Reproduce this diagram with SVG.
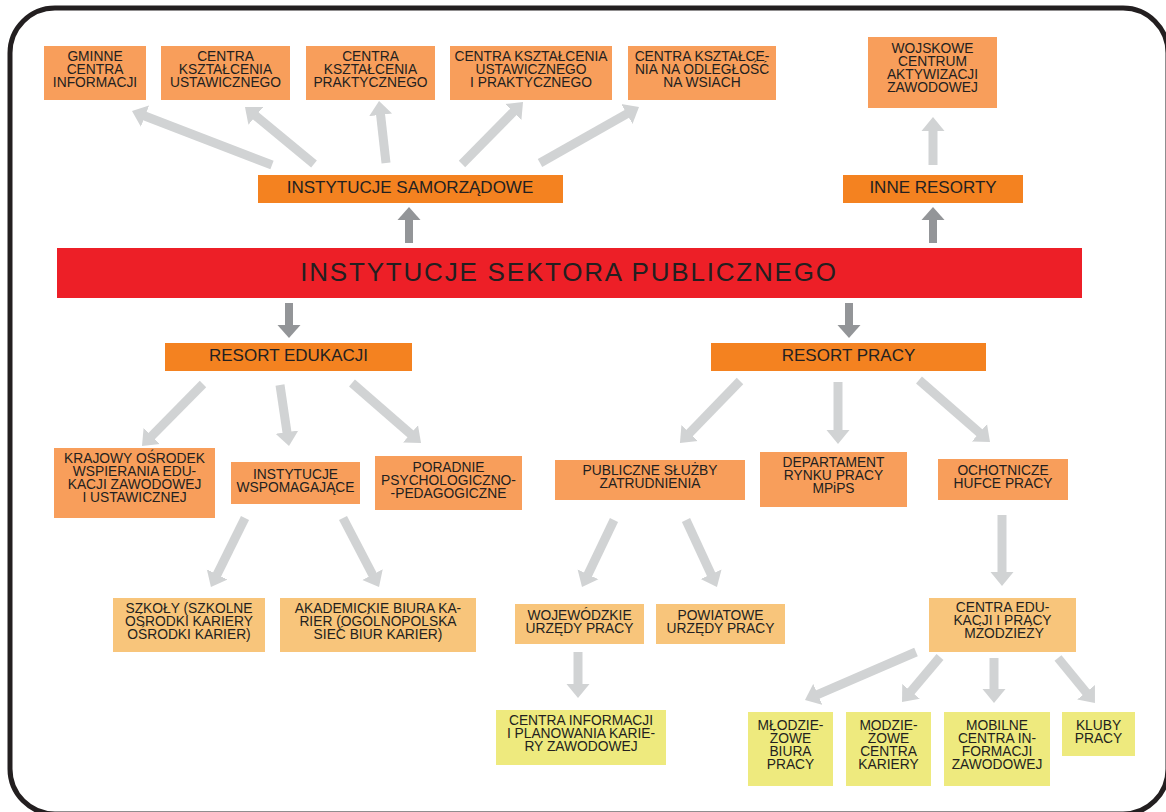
<svg xmlns="http://www.w3.org/2000/svg" width="1166" height="812" viewBox="0 0 1166 812">
<style>
.t{font-family:"Liberation Sans",Arial,sans-serif;font-size:13.8px;fill:#231F20;text-anchor:middle}
.tl{font-family:"Liberation Sans",Arial,sans-serif;font-size:17px;fill:#231F20;text-anchor:middle}
.o1{fill:#F48220}
.o2{fill:#F89E5B}
.o3{fill:#F8C57B}
.y{fill:#EEEA7E}
.ln{stroke:#D1D3D4;stroke-width:9;fill:none;marker-end:url(#ah)}
.dk{stroke:#939598;stroke-width:8;fill:none;marker-end:url(#dh)}
</style>
<defs>
<marker id="ah" markerUnits="userSpaceOnUse" markerWidth="15" markerHeight="24" viewBox="-1 -12 15 24" refX="0" refY="0" orient="auto"><path d="M-1,-11.5 L13,0 L-1,11.5 Z" fill="#D1D3D4"/></marker>
<marker id="dh" markerUnits="userSpaceOnUse" markerWidth="14" markerHeight="24" viewBox="-1 -12 14 24" refX="0" refY="0" orient="auto"><path d="M-1,-11.5 L12,0 L-1,11.5 Z" fill="#939598"/></marker>
</defs>
<rect width="1166" height="812" fill="#FFFFFF"/>
<rect x="10" y="8" width="1158" height="806" rx="45" ry="45" fill="none" stroke="#231F20" stroke-width="5"/>

<g id="connectors">
<line class="dk" x1="409" y1="243" x2="409" y2="219"/>
<line class="dk" x1="933" y1="243" x2="933" y2="219"/>
<line class="dk" x1="289" y1="303" x2="289" y2="326"/>
<line class="dk" x1="849" y1="303" x2="849" y2="326"/>
<line class="ln" x1="272" y1="165" x2="144.1" y2="115.7"/>
<line class="ln" x1="314" y1="164" x2="255" y2="115.3"/>
<line class="ln" x1="386" y1="163" x2="380.5" y2="113.9"/>
<line class="ln" x1="462" y1="164" x2="513.9" y2="111.3"/>
<line class="ln" x1="540" y1="163" x2="627.7" y2="113.4"/>
<line class="ln" x1="933" y1="165" x2="933" y2="130"/>
<line class="ln" x1="203" y1="384" x2="151.1" y2="436.7"/>
<line class="ln" x1="280" y1="385" x2="287.1" y2="433.1"/>
<line class="ln" x1="352" y1="383" x2="411.2" y2="434.5"/>
<line class="ln" x1="740" y1="381" x2="689" y2="433.7"/>
<line class="ln" x1="838" y1="382" x2="838" y2="431"/>
<line class="ln" x1="919" y1="380" x2="980.2" y2="433.4"/>
<line class="ln" x1="245" y1="518" x2="216.7" y2="575.3"/>
<line class="ln" x1="343" y1="518" x2="373" y2="575.5"/>
<line class="ln" x1="614" y1="520" x2="587.6" y2="575.3"/>
<line class="ln" x1="686" y1="520" x2="711.5" y2="575.2"/>
<line class="ln" x1="1002" y1="515" x2="1002" y2="573"/>
<line class="ln" x1="578" y1="652" x2="578" y2="685"/>
<line class="ln" x1="916" y1="652" x2="816.9" y2="694.8"/>
<line class="ln" x1="940" y1="657" x2="910.4" y2="692.1"/>
<line class="ln" x1="994" y1="658" x2="994" y2="690"/>
<line class="ln" x1="1058" y1="658" x2="1086.7" y2="693"/>
</g>

<g id="sektor-publiczny">
<rect x="57" y="248" width="1025" height="50" fill="#ED1F27"/>
<text x="569" y="281" font-family="Liberation Sans, Arial, sans-serif" font-size="26" letter-spacing="1.8" fill="#231F20" text-anchor="middle">INSTYTUCJE SEKTORA PUBLICZNEGO</text>
</g>

<g id="samorzadowe"><rect class="o1" x="258" y="175" width="305" height="28"/><text class="tl" x="410" y="193">INSTYTUCJE SAMORZĄDOWE</text></g>
<g id="inne-resorty"><rect class="o1" x="843" y="175" width="180" height="28"/><text class="tl" x="933" y="193">INNE RESORTY</text></g>
<g id="resort-edukacji"><rect class="o1" x="165" y="343" width="247" height="28"/><text class="tl" x="288.5" y="361">RESORT EDUKACJI</text></g>
<g id="resort-pracy"><rect class="o1" x="711" y="343" width="275" height="28"/><text class="tl" x="848.5" y="361">RESORT PRACY</text></g>

<g id="gminne"><rect class="o2" x="44" y="46" width="102" height="54"/><text class="t"><tspan x="95" y="61">GMINNE</tspan><tspan x="95" y="74">CENTRA</tspan><tspan x="95" y="87">INFORMACJI</tspan></text></g>
<g id="cku"><rect class="o2" x="161" y="46" width="129" height="54"/><text class="t"><tspan x="225.5" y="61">CENTRA</tspan><tspan x="225.5" y="74">KSZTAŁCENIA</tspan><tspan x="225.5" y="87">USTAWICZNEGO</tspan></text></g>
<g id="ckp"><rect class="o2" x="306" y="46" width="129" height="54"/><text class="t"><tspan x="370.5" y="61">CENTRA</tspan><tspan x="370.5" y="74">KSZTAŁCENIA</tspan><tspan x="370.5" y="87">PRAKTYCZNEGO</tspan></text></g>
<g id="ckuip"><rect class="o2" x="450" y="46" width="162" height="54"/><text class="t"><tspan x="531" y="61">CENTRA KSZTAŁCENIA</tspan><tspan x="531" y="74">USTAWICZNEGO</tspan><tspan x="531" y="87">I PRAKTYCZNEGO</tspan></text></g>
<g id="cknow"><rect class="o2" x="628" y="46" width="148" height="54"/><text class="t"><tspan x="702" y="61">CENTRA KSZTAŁCE-</tspan><tspan x="702" y="74">NIA NA ODLEGŁOŚĆ</tspan><tspan x="702" y="87">NA WSIACH</tspan></text></g>
<g id="wojskowe"><rect class="o2" x="868" y="37" width="129" height="71"/><text class="t"><tspan x="932.5" y="53">WOJSKOWE</tspan><tspan x="932.5" y="66">CENTRUM</tspan><tspan x="932.5" y="79">AKTYWIZACJI</tspan><tspan x="932.5" y="92">ZAWODOWEJ</tspan></text></g>

<g id="krajowy"><rect class="o2" x="54" y="448" width="161" height="70"/><text class="t"><tspan x="134.5" y="463">KRAJOWY OŚRODEK</tspan><tspan x="134.5" y="476">WSPIERANIA EDU-</tspan><tspan x="134.5" y="489">KACJI ZAWODOWEJ</tspan><tspan x="134.5" y="502">I USTAWICZNEJ</tspan></text></g>
<g id="wspomagajace"><rect class="o2" x="231" y="462" width="129" height="42"/><text class="t"><tspan x="295.5" y="479">INSTYTUCJE</tspan><tspan x="295.5" y="492">WSPOMAGAJĄCE</tspan></text></g>
<g id="poradnie"><rect class="o2" x="375" y="456" width="147" height="54"/><text class="t"><tspan x="448.5" y="472">PORADNIE</tspan><tspan x="448.5" y="485">PSYCHOLOGICZNO-</tspan><tspan x="448.5" y="498">-PEDAGOGICZNE</tspan></text></g>
<g id="publiczne"><rect class="o2" x="555" y="460" width="190" height="40"/><text class="t"><tspan x="650" y="475">PUBLICZNE SŁUŻBY</tspan><tspan x="650" y="488">ZATRUDNIENIA</tspan></text></g>
<g id="departament"><rect class="o2" x="760" y="452" width="147" height="55"/><text class="t"><tspan x="833.5" y="467">DEPARTAMENT</tspan><tspan x="833.5" y="480">RYNKU PRACY</tspan><tspan x="833.5" y="493">MPiPS</tspan></text></g>
<g id="ochotnicze"><rect class="o2" x="938" y="459" width="130" height="41"/><text class="t"><tspan x="1003" y="475">OCHOTNICZE</tspan><tspan x="1003" y="488">HUFCE PRACY</tspan></text></g>

<g id="szkoly"><rect class="o3" x="113" y="598" width="152" height="54"/><text class="t"><tspan x="189" y="613">SZKOŁY (SZKOLNE</tspan><tspan x="189" y="626">OŚRODKI KARIERY</tspan><tspan x="189" y="639">OŚRODKI KARIER)</tspan></text></g>
<g id="akademickie"><rect class="o3" x="280" y="598" width="196" height="54"/><text class="t"><tspan x="378" y="613">AKADEMICKIE BIURA KA-</tspan><tspan x="378" y="626">RIER (OGÓLNOPOLSKA</tspan><tspan x="378" y="639">SIEĆ BIUR KARIER)</tspan></text></g>
<g id="wojewodzkie"><rect class="o3" x="515" y="604" width="129" height="40"/><text class="t"><tspan x="579.5" y="620">WOJEWÓDZKIE</tspan><tspan x="579.5" y="633">URZĘDY PRACY</tspan></text></g>
<g id="powiatowe"><rect class="o3" x="656" y="604" width="129" height="40"/><text class="t"><tspan x="720.5" y="620">POWIATOWE</tspan><tspan x="720.5" y="633">URZĘDY PRACY</tspan></text></g>
<g id="centra-edukacji"><rect class="o3" x="929" y="598" width="147" height="54"/><text class="t"><tspan x="1002.5" y="612">CENTRA EDU-</tspan><tspan x="1002.5" y="625">KACJI I PRACY</tspan><tspan x="1004" y="638">MŻODZIEŻY</tspan></text></g>

<g id="centra-informacji"><rect class="y" x="496" y="710" width="170" height="55"/><text class="t"><tspan x="581" y="725">CENTRA INFORMACJI</tspan><tspan x="581" y="738">I PLANOWANIA KARIE-</tspan><tspan x="581" y="751">RY ZAWODOWEJ</tspan></text></g>
<g id="mlodziezowe-biura"><rect class="y" x="748" y="712" width="85" height="74"/><text class="t"><tspan x="790.5" y="730">MŁODZIE-</tspan><tspan x="790.5" y="743">ŻOWE</tspan><tspan x="790.5" y="756">BIURA</tspan><tspan x="790.5" y="769">PRACY</tspan></text></g>
<g id="modziezowe-centra"><rect class="y" x="846" y="712" width="85" height="74"/><text class="t"><tspan x="888.5" y="730">MODZIE-</tspan><tspan x="888.5" y="743">ŻOWE</tspan><tspan x="888.5" y="756">CENTRA</tspan><tspan x="888.5" y="769">KARIERY</tspan></text></g>
<g id="mobilne"><rect class="y" x="944" y="712" width="106" height="74"/><text class="t"><tspan x="997" y="730">MOBILNE</tspan><tspan x="997" y="743">CENTRA IN-</tspan><tspan x="997" y="756">FORMACJI</tspan><tspan x="997" y="769">ZAWODOWEJ</tspan></text></g>
<g id="kluby"><rect class="y" x="1062" y="712" width="73" height="44"/><text class="t"><tspan x="1098.5" y="730">KLUBY</tspan><tspan x="1098.5" y="743">PRACY</tspan></text></g>
</svg>
